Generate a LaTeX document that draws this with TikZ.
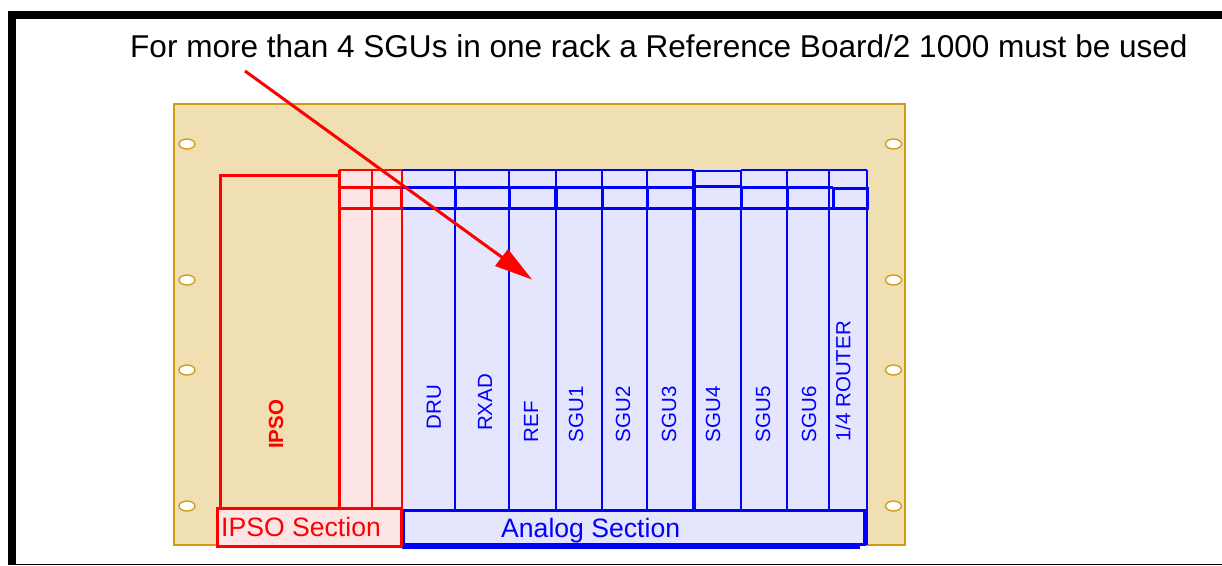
\documentclass[tikz,border=0pt]{standalone}
\usepackage{fontspec}
\setmainfont{Liberation Sans}
\definecolor{gold}{HTML}{D09B10}
\definecolor{panelfill}{HTML}{F0DFB2}
\definecolor{pinkfill}{HTML}{FDE5E5}
\definecolor{bluefill}{HTML}{E5E5FD}
\tikzset{
  x=1pt,y=-1pt,
  hole/.style={ellipse,draw=gold,fill=white,line width=1.3pt,minimum width=16pt,minimum height=10pt,inner sep=0pt},
  redl/.style={draw=red,line width=2pt},
  bluel/.style={draw=blue,line width=2pt},
  slot/.style={rotate=90,font=\fontsize{20.5}{22}\selectfont,text=blue,inner sep=0pt,anchor=west},
  seclabel/.style={font=\fontsize{26.6}{28}\selectfont,inner sep=0pt,anchor=base west},
}
\usetikzlibrary{shapes.geometric}
\begin{document}
\begin{tikzpicture}
\useasboundingbox (0,0) rectangle (1222,565);
\fill[white] (0,0) rectangle (1222,565);
% page frame
\fill[black] (7.5,10.5) rectangle (1222,19);
\fill[black] (7.5,10.5) rectangle (15.5,565);
\draw[black,line width=1pt] (7.5,564.5) -- (1222,564.5);
% panel
\draw[gold,fill=panelfill,line width=2pt] (174,104) rectangle (905,545);
\foreach \n/\yy in {a/144,b/280,c/370,d/506}{
  \node[hole] (hl\n) at (187,\yy) {};
  \node[hole] (hr\n) at (893.5,\yy) {};
}
% fills
\fill[pinkfill] (340,170) rectangle (402,508);
\fill[bluefill] (402,170) rectangle (867,509);
% IPSO
\draw[red,line width=3pt] (220.5,508) -- (220.5,175.5) -- (340,175.5);
\draw[red,line width=3pt] (339.5,508) -- (339.5,170);
\draw[red,line width=2pt] (339,170) -- (402,170);
\draw[redl] (372,170) -- (372,508);
\draw[redl] (402,170) -- (402,508);
\draw[red,line width=2.5pt] (339,187.5) -- (402,187.5);
\draw[red,line width=3pt] (339,208.5) -- (402,208.5);
\draw[red,line width=3.5pt] (371.5,187) -- (371.5,208);
\draw[red,line width=2.5pt] (401,187) -- (401,208);
% blue slots
\draw[bluel] (402,170) -- (694,170);
\draw[bluel] (694,171) -- (741,171);
\draw[bluel] (741,170) -- (867,170);
\foreach \xx in {455,509,555.5,602,647,741,787,829,867}{
  \draw[bluel] (\xx,170) -- (\xx,509);
}
\draw[blue,line width=3.5pt] (694,170) -- (694,509);
\draw[bluel,line width=2.5pt] (402,187.5) -- (694,187.5);
\draw[bluel,line width=2.5pt] (694,186.5) -- (741,186.5);
\draw[bluel,line width=2.5pt] (741,187.5) -- (833,187.5);
\draw[blue,line width=3pt] (402,208.5) -- (868,208.5);
\draw[blue,line width=3pt] (833.5,188.5) -- (868,188.5);
\foreach \xx in {455.5,509.5,556,602.5,647.5,741.5,787.5}{
  \draw[blue,line width=3.5pt] (\xx,187) -- (\xx,208);
}
\draw[blue,line width=3pt] (833.5,187) -- (833.5,210);
\draw[blue,line width=3pt] (867.5,187) -- (867.5,210);
% slot labels
\node[slot] (dru) at (434,429.5) {DRU};
\node[slot] (rxad) at (485,431) {RXAD};
\node[slot] (ref) at (531,442.5) {REF};
\node[slot] (sgu1) at (576,442.5) {SGU1};
\node[slot] (sgu2) at (623,442.5) {SGU2};
\node[slot] (sgu3) at (669,442.5) {SGU3};
\node[slot] (sgu4) at (713,442.5) {SGU4};
\node[slot] (sgu5) at (763,442.5) {SGU5};
\node[slot] (sgu6) at (809,442.5) {SGU6};
\node[slot] (router) at (843,442) {1/4 ROUTER};
\node[rotate=90,font=\fontsize{20.5}{22}\selectfont\bfseries,text=red,inner sep=0pt,anchor=west] (ipso) at (276,449) {IPSO};
% section boxes
\draw[blue,fill=bluefill,line width=3pt] (403.5,510) -- (864,510) -- (864,544) -- (403.5,544) -- cycle;
\fill[blue] (402,543.5) rectangle (860,549);
\draw[bluel] (867,509) -- (867,545);
\draw[red,fill=pinkfill,line width=3pt] (217.5,508.5) rectangle (401.5,546.5);
\node[seclabel,text=red] (ipsosec) at (221,536) {IPSO Section};
\node[seclabel,text=blue] (analogsec) at (501,537) {Analog Section};
% caption and arrow
\node[font=\fontsize{31.55}{34}\selectfont,inner sep=0pt,anchor=base west] (caption) at (130,57) {For more than 4 SGUs in one rack a Reference Board/2 1000 must be used};
\coordinate (arrstart) at (245,71);
\coordinate (arrtip) at (532,279.5);
\coordinate (arrl) at (495,266);
\coordinate (arrr) at (508,249);
\draw[red,line width=3pt] (arrstart) -- (503,258);
\fill[red] (arrtip) -- (arrl) -- (arrr) -- cycle;
\end{tikzpicture}
\end{document}
